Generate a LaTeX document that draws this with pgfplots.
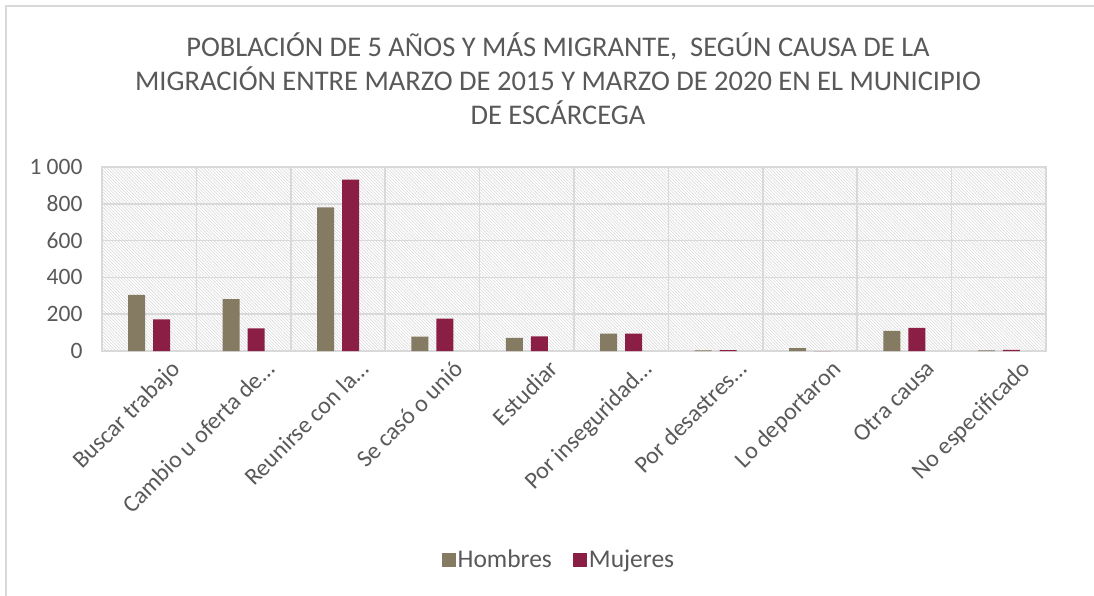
\documentclass[border=0pt]{standalone}
\usepackage{pgfplots}
\pgfplotsset{compat=1.18}
\usepackage{fontspec}
\setmainfont{Carlito}
\usetikzlibrary{patterns.meta}
\definecolor{hombres}{RGB}{133,123,99}
\definecolor{mujeres}{RGB}{139,30,68}
\definecolor{txt}{RGB}{89,89,89}
\definecolor{gridc}{RGB}{217,217,217}

\begin{document}
\begin{tikzpicture}[x=1pt,y=1pt]
\useasboundingbox (-102,-245) rectangle (992,351);
\draw[gridc, line width=2pt] (-96,-245) -- (-96,345) -- (992,345);
\begin{axis}[
  at={(0,0)}, anchor=south west,
  scale only axis, width=944pt, height=184pt,
  ybar=8pt, bar width=17pt,
  xmin=-0.5, xmax=9.5, ymin=0, ymax=1000,
  xtick={0,...,9},
  xticklabels={Buscar trabajo, Cambio u oferta de…, Reunirse con la…, Se casó o unió, Estudiar, Por inseguridad…, Por desastres…, Lo deportaron, Otra causa, No especificado},
  xticklabel style={rotate=45, anchor=north east, font=\fontsize{24}{28}\selectfont, text=txt, inner sep=0pt, xshift=9pt, yshift=-20pt},
  ytick={0,200,...,1000},
  yticklabels={0,200,400,600,800,1 000},
  yticklabel style={font=\fontsize{23.5}{28}\selectfont, text=txt, xshift=-16pt},
  major tick length=0pt,
  minor xtick={-0.5,0.5,...,9.5},
  xmajorgrids=false, xminorgrids, ymajorgrids,
  grid style={gridc, line width=1.5pt},
  minor grid style={gridc, line width=1.5pt},
  axis line style={gridc, line width=1.5pt},
  tick style={draw=none},
  axis background/.style={pattern={Lines[angle=-45, distance=2.2pt, line width=0.6pt]}, pattern color=gray!30},
  legend style={at={(0.484,-1.135)}, anchor=center, draw=none, legend columns=2,
    font=\fontsize{25.5}{28}\selectfont, text=txt,
    /tikz/every even column/.append style={column sep=19pt}},
  legend image code/.code={\fill[#1] (0pt,-7pt) rectangle (14pt,7pt);},
]
\addplot[fill=hombres, draw=none] coordinates {(0,305) (1,282) (2,781) (3,78) (4,71) (5,94) (6,3) (7,16) (8,109) (9,4)};
\addplot[fill=mujeres, draw=none] coordinates {(0,172) (1,123) (2,931) (3,176) (4,80) (5,94) (6,5) (7,0) (8,125) (9,6)};
\legend{Hombres, Mujeres}
\end{axis}
\node[align=center, text=txt, font=\fontsize{28.5}{34}\selectfont] at (456,272)
  {POBLACIÓN DE 5 AÑOS Y MÁS MIGRANTE,\ \ SEGÚN CAUSA DE LA\\MIGRACIÓN ENTRE MARZO DE 2015 Y MARZO DE 2020 EN EL MUNICIPIO\\DE ESCÁRCEGA};
\end{tikzpicture}
\end{document}
